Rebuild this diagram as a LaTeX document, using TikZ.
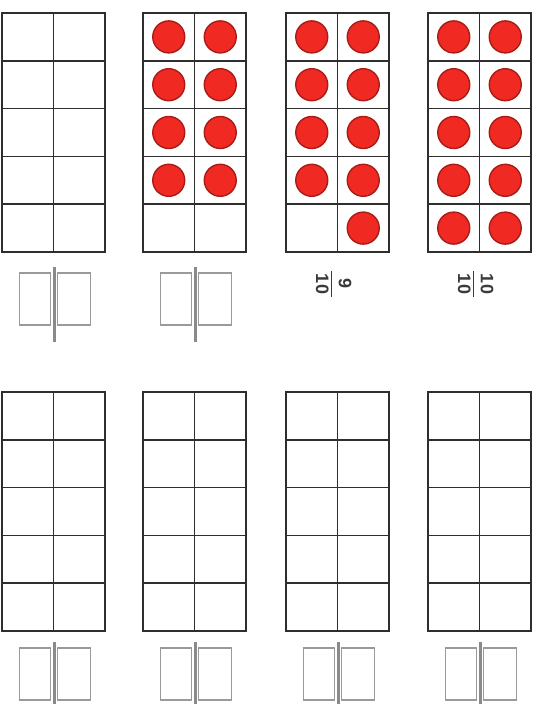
\documentclass[tikz,border=0pt]{standalone}
\usepackage{fontspec}
\usepackage{colortbl}
\newfontfamily\fracfont{Liberation Sans}
\definecolor{gridc}{HTML}{2E2E2E}
\definecolor{boxc}{HTML}{9A9A9A}
\definecolor{barc}{HTML}{8A8A8A}
\definecolor{dotfill}{HTML}{F02A22}
\definecolor{dotedge}{HTML}{A81C18}
\definecolor{txtc}{HTML}{3A3A3A}
\newcommand{\myfrac}[2]{{\setlength{\arrayrulewidth}{1.4pt}\arrayrulecolor{txtc}\renewcommand{\arraystretch}{0.9}\begin{tabular}{@{\,}c@{\,}}#1\\[1pt]\hline\rule{0pt}{15pt}#2\end{tabular}}}
\tikzset{
  outerline/.style={draw=gridc, line width=2.3pt},
  thickrow/.style={draw=gridc, line width=2pt},
  thinrow/.style={draw=gridc, line width=1.3pt},
  midcol/.style={draw=gridc, line width=1.5pt},
  dotc/.style={fill=dotfill, draw=dotedge, line width=1.4pt},
  fbox/.style={draw=boxc, line width=1.6pt},
  fbar/.style={draw=barc, line width=3pt},
  fractxt/.style={text=txtc, font=\fracfont\bfseries\fontsize{18}{20}\selectfont, rotate=-90, inner sep=0pt}
}
\begin{document}
\begin{tikzpicture}[x=1pt,y=-1pt]
\useasboundingbox (0,0) rectangle (540,704);
\def\W{103}
\def\H{47.8}
% grids
\foreach \xo in {2,143,286,428}{
  \foreach \yo in {13,392}{
    \draw[thickrow] (\xo,\yo+\H) -- (\xo+\W,\yo+\H);
    \draw[thinrow] (\xo,\yo+2*\H) -- (\xo+\W,\yo+2*\H);
    \draw[thinrow] (\xo,\yo+3*\H) -- (\xo+\W,\yo+3*\H);
    \draw[thickrow] (\xo,\yo+4*\H) -- (\xo+\W,\yo+4*\H);
    \draw[midcol] (\xo+\W/2,\yo) -- (\xo+\W/2,\yo+5*\H);
    \draw[outerline] (\xo,\yo) rectangle (\xo+\W,\yo+5*\H);
  }
}
% dots: grid 2 (8), grid 3 (9), grid 4 (10)
\foreach \xo in {143,286,428}{
  \foreach \r in {0,...,3}{
    \filldraw[dotc] (\xo+\W/4,13+\H*\r+\H/2) circle (16);
    \filldraw[dotc] (\xo+3*\W/4,13+\H*\r+\H/2) circle (16);
  }
}
\filldraw[dotc] (286+3*\W/4,13+\H*4+\H/2) circle (16);
\filldraw[dotc] (428+\W/4,13+\H*4+\H/2) circle (16);
\filldraw[dotc] (428+3*\W/4,13+\H*4+\H/2) circle (16);
% empty fraction boxes
\foreach \xo/\ya/\yb/\ba/\bb in {2/273/325/267/342,143/273/325/267/342,2/648/700/642/710,143/648/700/642/710,286/648/700/642/710,428/648/700/642/710}{
  \pgfmathsetmacro{\c}{\xo+51.5}
  \draw[fbox] (\c-34,\ya) rectangle (\c-3,\yb);
  \draw[fbox] (\c+4,\ya) rectangle (\c+37,\yb);
  \draw[fbar] (\c+0.5,\ba) -- (\c+0.5,\bb);
}
% fractions
\node[fractxt] (f9) at (331,284) {\myfrac{9}{10}};
\node[fractxt] (f10) at (473,284) {\myfrac{10}{10}};
\end{tikzpicture}
\end{document}
